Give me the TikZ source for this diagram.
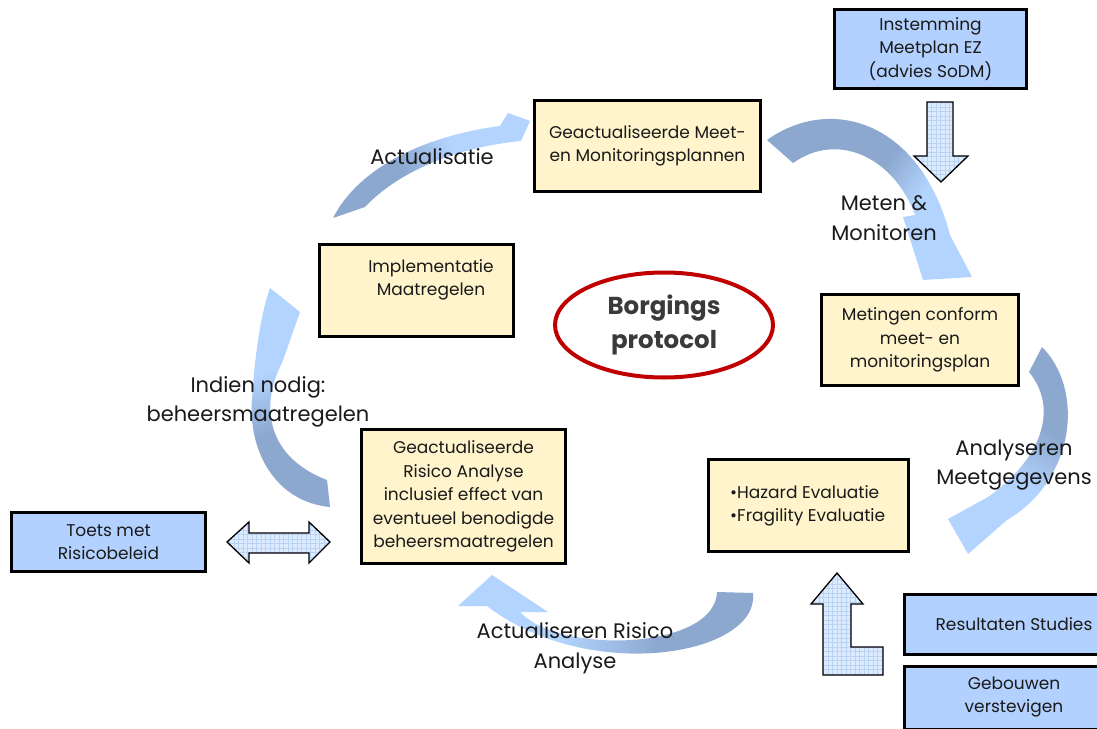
\documentclass[tikz,border=0pt]{standalone}
\usepackage{fontspec}
\setmainfont{Poppins}
\usetikzlibrary{shapes.geometric,patterns.meta}
\definecolor{boxyellow}{HTML}{FFF4CC}
\definecolor{boxblue}{HTML}{B3D1FF}
\definecolor{arrdark}{HTML}{8CA8CF}
\definecolor{arrlight}{HTML}{B3D4FF}
\definecolor{gridfill}{HTML}{DDEBFF}
\definecolor{gridline}{HTML}{B9D2F4}
\definecolor{ellred}{HTML}{C00000}
\definecolor{txtgray}{HTML}{3A3A3A}
\definecolor{txtblack}{HTML}{1A1A1A}
\pgfdeclarehorizontalshading{arrowshade}{100bp}{color(0bp)=(arrdark); color(42bp)=(arrdark); color(58bp)=(arrlight); color(100bp)=(arrlight)}
\pgfdeclarehorizontalshading{arrowshadelate}{100bp}{color(0bp)=(arrdark); color(50bp)=(arrdark); color(62bp)=(arrlight); color(100bp)=(arrlight)}
\newcommand\bxfont{\fontsize{17}{23.5}\selectfont}
\newcommand\lbfont{\fontsize{21}{29.5}\selectfont}
\tikzset{
  boxbase/.style={draw=black, line width=3pt, inner sep=0pt, align=center, font=\bxfont, text=txtblack},
  yellowbox/.style={boxbase, fill=boxyellow},
  bluebox/.style={boxbase, fill=boxblue},
  boxtext/.style={inner sep=0pt, align=center, font=\bxfont, text=txtblack},
  lbl/.style={inner sep=0pt, align=center, font=\lbfont, text=txtblack},
  curvarr/.style={shading=arrowshade, draw=none},
  blockarr/.style={draw=black, line width=1.3pt, line join=miter,
    preaction={fill=gridfill},
    preaction={pattern={Hatch[distance=4.5pt, angle=0, line width=0.5pt]}, pattern color=gridline}},
}
\begin{document}
\begin{tikzpicture}[x=1pt, y=-1pt]
\useasboundingbox (0,0) rectangle (1097,728);
\fill[white] (0,0) rectangle (1097,728);

% curved process arrows
\shade[curvarr, shading angle=27] (333,218) .. controls (360,165) and (430,135) .. (500,126) -- (508,113) -- (530,121) -- (521,141) .. controls (450,148) and (395,175) .. (365,207) -- cycle;
\shade[curvarr, shading=arrowshadelate, shading angle=-35] (767,140) .. controls (830,95) and (920,120) .. (950,235) -- (972,277) -- (923,280) -- (903,217) -- (915,215) .. controls (895,160) and (840,130) .. (793,163) -- cycle;
\shade[curvarr, shading angle=-114] (1042,347) .. controls (1085,390) and (1075,480) .. (1007,520) -- (968,554) -- (948,519) -- (988,497) .. controls (1040,460) and (1060,410) .. (1029,372) -- cycle;
\shade[curvarr, shading angle=180] (753,593) .. controls (760,655) and (590,685) .. (487,606) -- (458,606) -- (492,575) -- (548,612) -- (520,612) .. controls (560,655) and (715,650) .. (717,592) -- cycle;
\shade[curvarr, shading angle=105] (330,507) .. controls (275,502) and (248,450) .. (252,400) .. controls (255,350) and (262,310) .. (270,288) -- (300,312) -- (282,363) .. controls (262,400) and (262,455) .. (327,480) -- cycle;

% block arrows
\draw[blockarr] (927,102) -- (953,102) -- (953,156) -- (968,156) -- (941,182) -- (914,156) -- (927,156) -- cycle;
\draw[blockarr] (227,542) -- (249,522) -- (249,533) -- (309,533) -- (309,522) -- (330,542) -- (309,563) -- (309,553) -- (249,553) -- (249,563) -- cycle;
\draw[blockarr] (837,573) -- (863,604) -- (851,604) -- (851,647) -- (883,647) -- (883,675) -- (823,675) -- (823,604) -- (811,604) -- cycle;

% boxes
\node[bluebox, minimum width=192pt, minimum height=79pt] (instem) at (930.5,49) {Instemming\\Meetplan EZ\\(advies SoDM)};
\node[yellowbox, minimum width=226pt, minimum height=91pt] (plannen) at (647.5,146) {Geactualiseerde Meet-\\en Monitoringsplannen};
\node[yellowbox, minimum width=194pt, minimum height=92pt] (impl) at (416.5,290.5) {};
\node[boxtext] (impltxt) at (431,280) {Implementatie\\Maatregelen};
\node[yellowbox, minimum width=197pt, minimum height=91pt] (meting) at (920,340) {Metingen conform\\meet- en\\monitoringsplan};
\node[yellowbox, minimum width=204pt, minimum height=134pt] (risico) at (463.5,496.5) {Geactualiseerde\\Risico Analyse\\inclusief effect van\\eventueel benodigde\\beheersmaatregelen};
\node[yellowbox, minimum width=200pt, minimum height=92pt] (hazard) at (808.5,505.5) {};
\node[boxtext, align=left, anchor=west] (hazardtxt) at (730,506) {•Hazard Evaluatie\\•Fragility Evaluatie};
\node[bluebox, minimum width=194pt, minimum height=59pt] (toets) at (108.5,542) {Toets met\\Risicobeleid};
\node[bluebox, minimum width=197pt, minimum height=60pt] (result) at (1003,624.5) {};
\node[boxtext] (resulttxt) at (1014,624) {Resultaten Studies};
\node[bluebox, minimum width=197pt, minimum height=63pt] (gebouw) at (1003,698) {};
\node[boxtext] (gebouwtxt) at (1014,697) {Gebouwen\\verstevigen};

% centre ellipse
\node[ellipse, draw=ellred, line width=4pt, fill=white, minimum width=218pt, minimum height=105pt, align=center, font=\fontsize{24.5}{34}\selectfont\bfseries, text=txtgray, inner sep=0pt] (core) at (664,325) {Borgings\\protocol};

% labels
\node[lbl] (lactual) at (432,157) {Actualisatie};
\node[lbl] (lmeten) at (884,218) {Meten \&\\Monitoren};
\node[lbl] (lindien) at (258,402) {Indien nodig:\\beheersmaatregelen};
\node[lbl] (lanalys) at (1014,465) {Analyseren\\Meetgegevens};
\node[lbl] (lrisico) at (575,648) {Actualiseren Risico\\Analyse};
\end{tikzpicture}
\end{document}
